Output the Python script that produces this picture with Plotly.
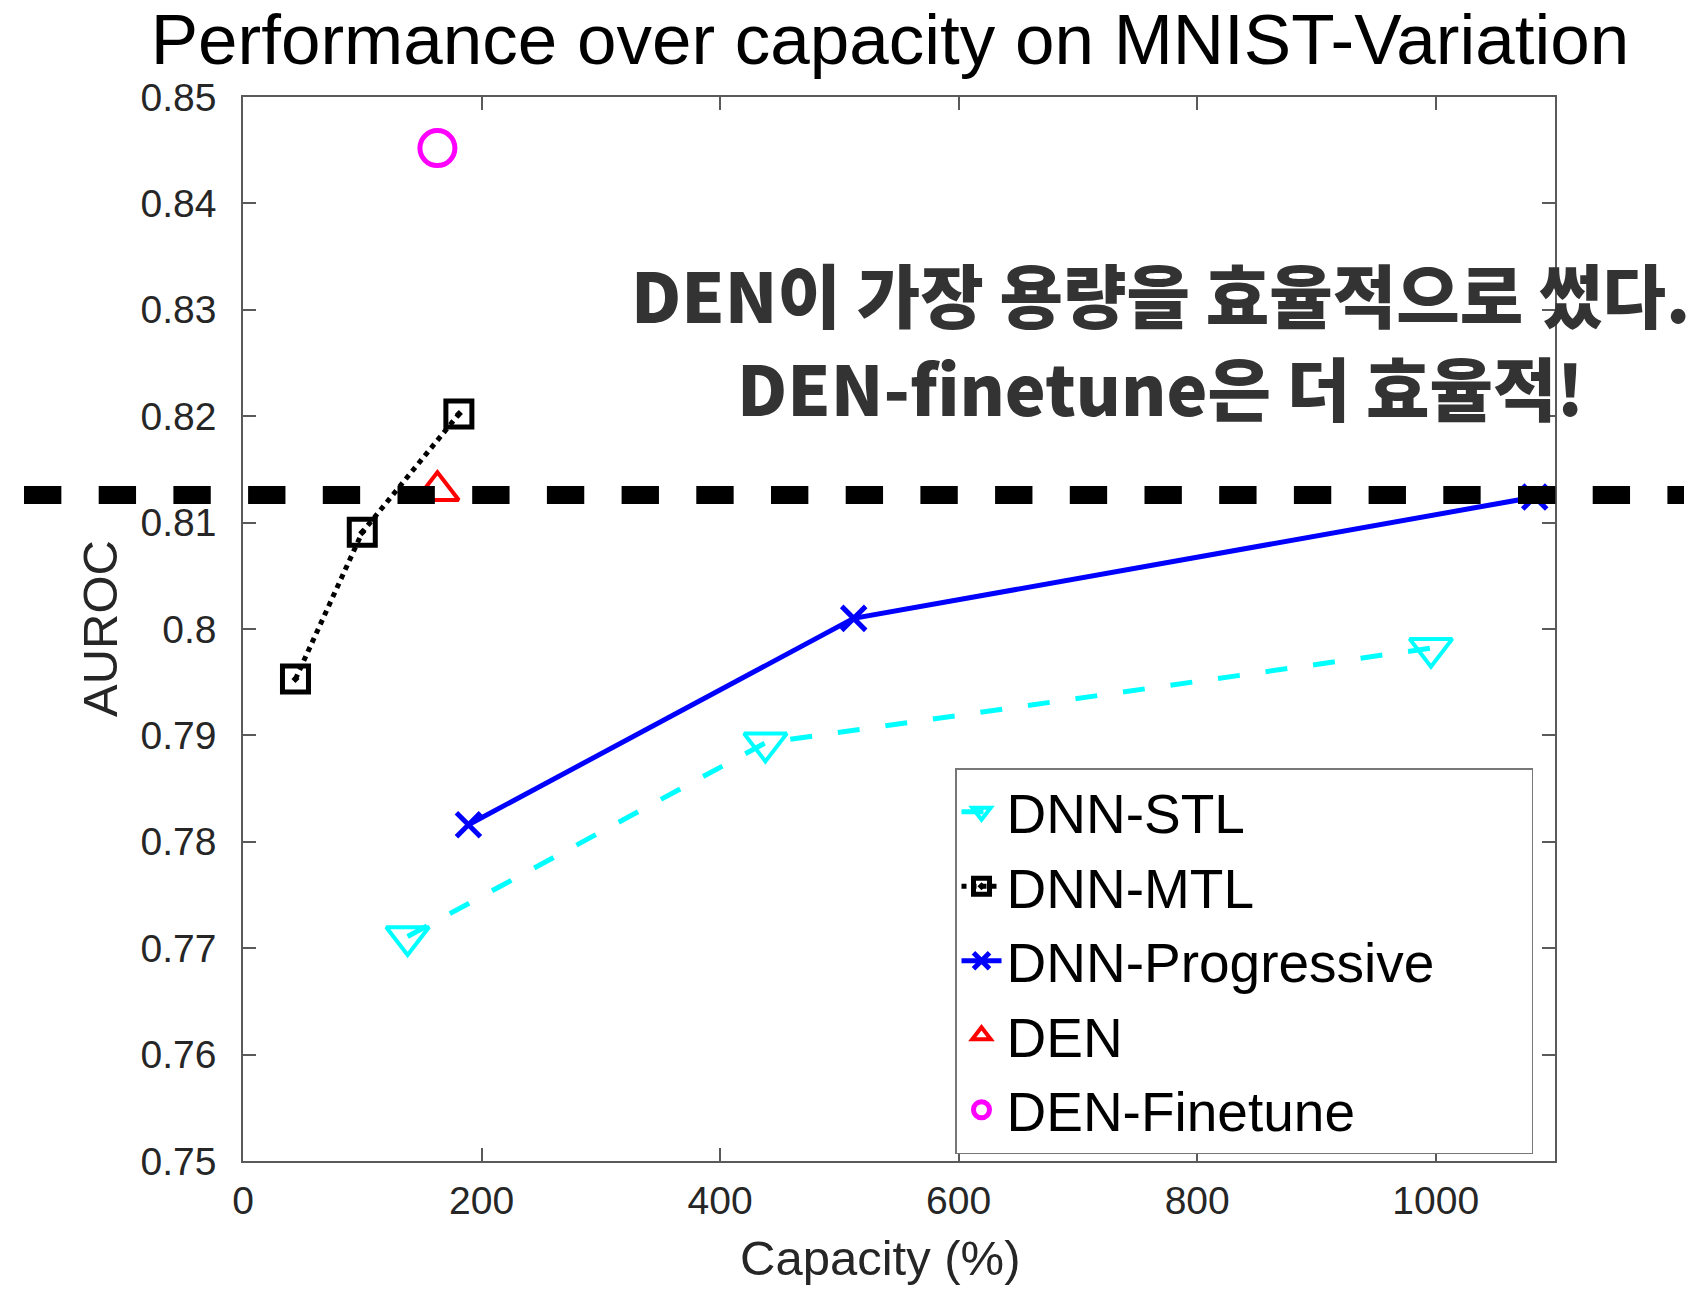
import plotly.graph_objects as go

# ---- data -------------------------------------------------------------
stl_capacity = [138, 438, 996]
stl_auroc = [0.7711, 0.7893, 0.7982]

mtl_capacity = [44, 100, 181]
mtl_auroc = [0.7953, 0.8091, 0.8202]

prog_capacity = [189, 512, 1083]
prog_auroc = [0.7816, 0.8010, 0.8124]

den_capacity = [163]
den_auroc = [0.8130]

finetune_capacity = [163]
finetune_auroc = [0.8452]

reference_level = 0.8126  # horizontal reference line

x_ticks = [0, 200, 400, 600, 800, 1000]
y_ticks = [0.75, 0.76, 0.77, 0.78, 0.79, 0.80, 0.81, 0.82, 0.83, 0.84, 0.85]
y_tick_text = ["0.75", "0.76", "0.77", "0.78", "0.79", "0.8", "0.81", "0.82",
               "0.83", "0.84", "0.85"]

title_text = "Performance over capacity on MNIST-Variation"
note_line1 = "DEN이 가장 용량을 효율적으로 썼다."
note_line2 = "DEN-finetune은 더 효율적!"

# ---- figure -----------------------------------------------------------
W, H = 1696, 1289
ML, MR, MT, MB = 243, 141, 97, 128
PW, PH = W - ML - MR, H - MT - MB

LATIN = "Liberation Sans, Arial, sans-serif"
AXIS_COLOR = "#5a5a5a"
LEGEND_PAD = "\u00a0" * 6  # widens the legend box to leave room on the right

fig = go.Figure()

fig.add_trace(go.Scatter(
    x=stl_capacity, y=stl_auroc, name="DNN-STL", mode="lines+markers",
    line=dict(color="#00ffff", width=5, dash="22px,26px"),
    marker=dict(symbol="triangle-down-open", size=37, color="#00ffff",
                line=dict(color="#00ffff", width=4)),
))
fig.add_trace(go.Scatter(
    x=mtl_capacity, y=mtl_auroc, name="DNN-MTL", mode="lines+markers",
    line=dict(color="#000000", width=5, dash="dot"),
    marker=dict(symbol="square-open-dot", size=26, color="#000000",
                line=dict(color="#000000", width=5)),
))
fig.add_trace(go.Scatter(
    x=prog_capacity, y=prog_auroc, name="DNN-Progressive" + LEGEND_PAD,
    mode="lines+markers",
    line=dict(color="#0000ff", width=5),
    marker=dict(symbol="x-thin", size=24, color="#0000ff",
                line=dict(color="#0000ff", width=5)),
))
fig.add_trace(go.Scatter(
    x=den_capacity, y=den_auroc, name="DEN", mode="markers",
    marker=dict(symbol="triangle-up-open", size=37, color="#ff0000",
                line=dict(color="#ff0000", width=4)),
))
fig.add_trace(go.Scatter(
    x=finetune_capacity, y=finetune_auroc, name="DEN-Finetune", mode="markers",
    marker=dict(symbol="circle-open", size=35, color="#ff00ff",
                line=dict(color="#ff00ff", width=5)),
))

# thick dashed reference line spanning past the plot area
fig.add_shape(
    type="line", xref="paper", yref="y",
    x0=(24 - ML) / PW, x1=(1684 - ML) / PW,
    y0=reference_level, y1=reference_level,
    line=dict(color="#000000", width=18, dash="37.35px,37.35px"),
    layer="above",
)

axis_common = dict(
    showline=True, linecolor=AXIS_COLOR, linewidth=1.5, mirror="ticks",
    ticks="inside", ticklen=13, tickwidth=1.5, tickcolor=AXIS_COLOR,
    showgrid=False, zeroline=False,
    tickfont=dict(family=LATIN, size=39, color="#262626"),
)

fig.update_xaxes(range=[0, 1100], tickvals=x_ticks, ticklabelstandoff=4,
                 **axis_common)
fig.update_yaxes(range=[0.75, 0.85], tickvals=y_ticks, ticktext=y_tick_text,
                 ticklabelstandoff=17, **axis_common)

annotations = [
    dict(text="Capacity (%)", xref="paper", yref="paper",
         x=(880 - ML) / PW, y=(PH + MT - 1258) / PH, showarrow=False,
         xanchor="center", yanchor="middle",
         font=dict(family=LATIN, size=49, color="#262626")),
    dict(text="AUROC", xref="paper", yref="paper", textangle=-90,
         x=(100 - ML) / PW, y=0.5, showarrow=False,
         xanchor="center", yanchor="middle",
         font=dict(family=LATIN, size=49, color="#262626")),
    dict(text=note_line1, xref="paper", yref="paper",
         x=(1160 - ML) / PW, y=(PH + MT - 293) / PH, showarrow=False,
         xanchor="center", yanchor="middle",
         font=dict(family="Noto Sans CJK KR", size=69, color="#333333",
                   weight=900)),
    dict(text=note_line2, xref="paper", yref="paper",
         x=(1160 - ML) / PW, y=(PH + MT - 386) / PH, showarrow=False,
         xanchor="center", yanchor="middle",
         font=dict(family="Noto Sans CJK KR", size=69, color="#333333",
                   weight=900)),
]

fig.update_layout(
    width=W, height=H,
    margin=dict(l=ML, r=MR, t=MT, b=MB),
    paper_bgcolor="white", plot_bgcolor="white",
    title=dict(text=title_text, xref="paper", x=(890 - ML) / PW,
               xanchor="center", yref="container", y=1 - 39 / H,
               yanchor="middle",
               font=dict(family=LATIN, size=71, color="#000000")),
    legend=dict(
        x=(955 - ML) / PW, y=(PH + MT - 768) / PH,
        xanchor="left", yanchor="top",
        bgcolor="white", bordercolor="#777777", borderwidth=1.5,
        font=dict(family=LATIN, size=55, color="#000000"),
        itemwidth=40, tracegroupgap=0,
    ),
    annotations=annotations,
    showlegend=True,
)

fig.write_html("out.html")
